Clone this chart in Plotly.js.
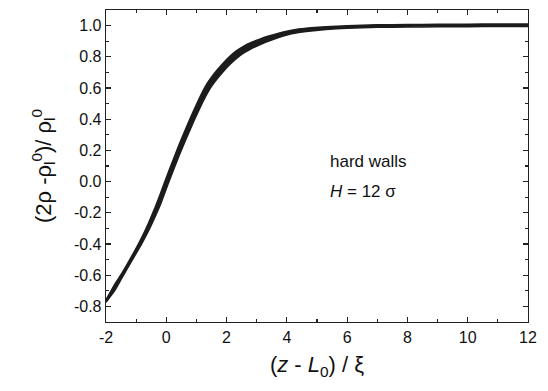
<!DOCTYPE html>
<html>
<head>
<meta charset="utf-8">
<script src="https://cdn.plot.ly/plotly-3.0.1.min.js"></script>
<style>html,body{margin:0;padding:0;background:#fff;}#chart{width:548px;height:391px;}</style>
</head>
<body>
<div id="chart"></div>
<script>
// scaled position (z - L0)/xi
var xVals = [-2.0, -1.7, -1.48, -1.15, -0.82, -0.6, -0.37, -0.2, 0.0, 0.2, 0.42, 0.67, 0.92, 1.16, 1.35, 1.5, 1.7, 1.9, 2.1, 2.3, 2.56, 2.8, 3.1, 3.4, 3.7, 4.0, 4.3, 4.8, 5.3, 6.0, 6.5, 7.0, 8.0, 9.0, 10.0, 11.0, 12.0];
// upper edge of the bundle of profiles
var yUpper = [-0.757, -0.655, -0.59, -0.48, -0.36, -0.27, -0.165, -0.08, 0.025, 0.125, 0.235, 0.35, 0.46, 0.56, 0.628, 0.67, 0.718, 0.762, 0.801, 0.835, 0.867, 0.89, 0.913, 0.933, 0.95, 0.964, 0.975, 0.986, 0.993, 0.999, 1.003, 1.005, 1.007, 1.008, 1.009, 1.01, 1.011];
// lower edge of the bundle
var yLower = [-0.773, -0.695, -0.62, -0.51, -0.40, -0.32, -0.225, -0.15, -0.045, 0.055, 0.165, 0.28, 0.39, 0.49, 0.562, 0.61, 0.662, 0.708, 0.749, 0.785, 0.823, 0.85, 0.877, 0.901, 0.922, 0.94, 0.953, 0.966, 0.975, 0.983, 0.987, 0.989, 0.991, 0.992, 0.993, 0.994, 0.995];

var xTicks = [-2, 0, 2, 4, 6, 8, 10, 12];
var xTickText = ['-2', '0', '2', '4', '6', '8', '10', '12'];
var yTicks = [-0.8, -0.6, -0.4, -0.2, 0.0, 0.2, 0.4, 0.6, 0.8, 1.0];
var yTickText = ['-0.8', '-0.6', '-0.4', '-0.2', '0.0', '0.2', '0.4', '0.6', '0.8', '1.0'];

var lineColor = '#1c1c1c';
var data = [
  {x: xVals, y: yLower, mode: 'lines', type: 'scatter', hoverinfo: 'skip',
   line: {color: lineColor, width: 1.5, shape: 'spline', smoothing: 0.4}},
  {x: xVals, y: yUpper, mode: 'lines', type: 'scatter', hoverinfo: 'skip', fill: 'tonexty',
   fillcolor: lineColor, line: {color: lineColor, width: 1.5, shape: 'spline', smoothing: 0.4}}
];

var font = {family: 'Liberation Sans, Arial, sans-serif', size: 16, color: '#111'};
var titleFont = {family: 'Liberation Sans, Arial, sans-serif', size: 22, color: '#111'};

var layout = {
  width: 548, height: 391,
  margin: {l: 106, r: 20, t: 10, b: 69},
  paper_bgcolor: '#fff', plot_bgcolor: '#fff',
  showlegend: false,
  font: font,
  xaxis: {
    range: [-2, 12], tickmode: 'array', tickvals: xTicks, ticktext: xTickText,
    showgrid: false, zeroline: false, showline: true, linecolor: '#222', linewidth: 1.3,
    mirror: 'ticks', ticks: 'inside', ticklen: 5, tickwidth: 1.2, tickcolor: '#222',
    minor: {ticks: 'inside', ticklen: 3, tickwidth: 1.1, tickcolor: '#222', tickmode: 'linear', dtick: 1, tick0: -2, showgrid: false},
    tickfont: font,
    title: {text: '(<i>z</i> - <i>L</i><sub>0</sub>) / ξ', font: titleFont, standoff: 12}
  },
  yaxis: {
    range: [-0.9, 1.1], tickmode: 'array', tickvals: yTicks, ticktext: yTickText,
    showgrid: false, zeroline: false, showline: true, linecolor: '#222', linewidth: 1.3,
    mirror: 'ticks', ticks: 'inside', ticklen: 5, tickwidth: 1.2, tickcolor: '#222',
    minor: {ticks: 'inside', ticklen: 3, tickwidth: 1.1, tickcolor: '#222', tickmode: 'linear', dtick: 0.1, tick0: 0, showgrid: false},
    tickfont: font,
    title: {text: '(2ρ -ρ<sub>l</sub><sup>0</sup>)/ ρ<sub>l</sub><sup>0</sup>', font: titleFont, standoff: 16}
  },
  annotations: [
    {x: 5.37, y: 0.128, xref: 'x', yref: 'y', xanchor: 'left', yanchor: 'middle', showarrow: false,
     text: 'hard walls', font: {family: font.family, size: 17, color: '#111'}},
    {x: 5.37, y: -0.063, xref: 'x', yref: 'y', xanchor: 'left', yanchor: 'middle', showarrow: false,
     text: '<i>H</i> = 12 σ', font: {family: font.family, size: 17, color: '#111'}}
  ]
};

Plotly.newPlot('chart', data, layout, {staticPlot: true, displayModeBar: false});
</script>
</body>
</html>
